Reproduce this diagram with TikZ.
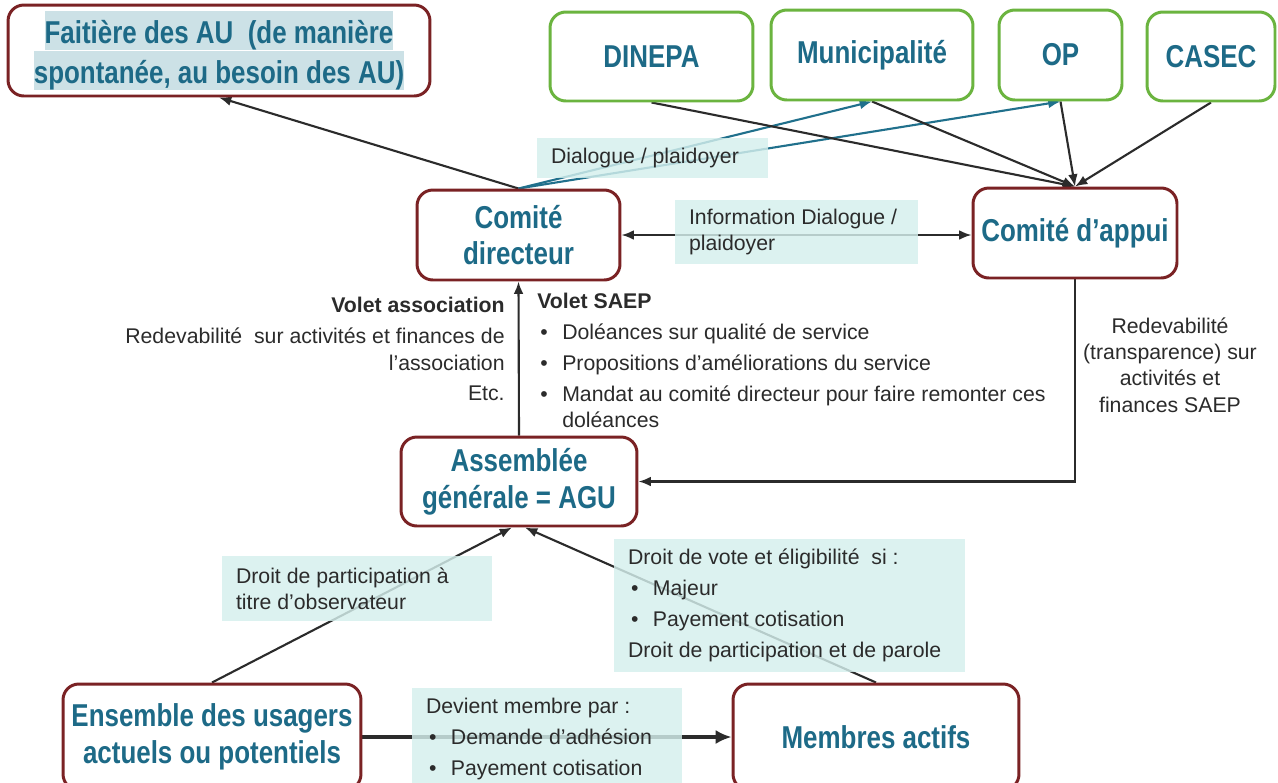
\documentclass[tikz,border=0pt]{standalone}
\usepackage{fontspec}
\setmainfont{Liberation Sans}
\newfontfamily\narrowsans[FakeStretch=0.82]{Liberation Sans}
\usetikzlibrary{arrows.meta,backgrounds}
\definecolor{titleblue}{HTML}{1D6A87}
\definecolor{boxred}{HTML}{7A2224}
\definecolor{boxgreen}{HTML}{6BB43F}
\definecolor{labelfill}{HTML}{D5F0ED}
\definecolor{hlfill}{HTML}{CCE1E6}
\definecolor{txtgray}{HTML}{2B2B2B}
\definecolor{linkblue}{HTML}{20708C}
\setlength{\fboxsep}{0pt}
\newcommand{\puce}{\hspace*{1.7pt}\makebox[12.5pt][l]{\textbullet}}
\newcommand{\surligne}[1]{\colorbox{hlfill}{\rule[-2.5pt]{0pt}{20.5pt}#1}}

\begin{document}
\begin{tikzpicture}[x=0.02cm, y=-0.02cm,
    actor/.style={rectangle, draw=boxred, line width=1.7pt, rounded corners=9pt, fill=white, align=center, text=titleblue, font=\narrowsans\bfseries\fontsize{18}{21}\selectfont},
    partner/.style={actor, draw=boxgreen},
    label/.style={rectangle, fill=labelfill, fill opacity=0.82, text opacity=1, text=txtgray, align=flush left, inner xsep=0.28cm, font=\fontsize{12.1}{15}\selectfont},
    note/.style={text=txtgray, inner sep=0pt, font=\fontsize{12.1}{15}\selectfont},
    arrow/.style={-{Latex[length=7pt,width=5.5pt]}, line width=1.2pt, txtgray},
    link/.style={arrow, linkblue}
]
\useasboundingbox (0,0) rectangle (1278,782);

% acteurs
\node[actor, minimum width=8.44cm, minimum height=1.82cm] (fait) at (219,50.5) {\surligne{Faitière des AU\ \ (de manière}\\\surligne{spontanée, au besoin des AU)}};
\node[partner, minimum width=4.06cm, minimum height=1.78cm] (din) at (651.5,56.5) {DINEPA};
\node[partner, minimum width=4.04cm, minimum height=1.8cm] (mun) at (872,55) {Municipalité};
\node[partner, minimum width=2.46cm, minimum height=1.8cm] (op) at (1060.5,55) {OP};
\node[partner, minimum width=2.56cm, minimum height=1.78cm] (casec) at (1211,56.5) {CASEC};
\node[actor, minimum width=4.06cm, minimum height=1.8cm] (cd) at (518.5,235) {Comité\\directeur};
\node[actor, minimum width=4.08cm, minimum height=1.8cm] (ca) at (1075,233) {Comité d’appui};
\node[actor, minimum width=4.72cm, minimum height=1.78cm] (ag) at (519,481.5) {Assemblée\\générale = AGU};
\node[actor, minimum width=5.96cm, minimum height=2.12cm] (ens) at (212,737) {Ensemble des usagers\\actuels ou potentiels};
\node[actor, minimum width=5.72cm, minimum height=2.12cm] (mem) at (876,737) {Membres actifs};

% etiquettes
\node[label, text width=4.06cm, minimum height=0.8cm] (dialog) at (652.5,158) {Dialogue / plaidoyer};
\node[label, text width=4.30cm, minimum height=1.28cm] (info) at (796.5,232) {Information Dialogue /\\plaidoyer};
\node[label, text width=4.84cm, minimum height=1.3cm] (observ) at (357,588.5) {Droit de participation à\\titre d’observateur};
\node[label, text width=6.46cm, minimum height=2.66cm] (vote) at (789.5,605.5) {Droit de vote et éligibilité\ \ si :\\[2.6pt]\puce Majeur\\[2.6pt]\puce Payement cotisation\\[2.6pt]Droit de participation et de parole};
\node[label, text width=4.84cm, minimum height=2.04cm] (adhes) at (547,739) {Devient membre par :\\[2.6pt]\puce Demande d’adhésion\\[2.6pt]\puce Payement cotisation};

% textes libres
\node[note, anchor=north east, align=right] (volasso) at (505,297) {\textbf{Volet association}\\[2.6pt]Redevabilité\ \ sur activités et finances de\\l’association\\[2.6pt]Etc.};
\node[note, anchor=north west, align=left] (volsaep) at (537,293) {\textbf{Volet SAEP}\\[2.6pt]\puce Doléances sur qualité de service\\[2.6pt]\puce Propositions d’améliorations du service\\[2.6pt]\puce Mandat au comité directeur pour faire remonter ces\\\hspace*{14.2pt}doléances};
\node[note, anchor=north, align=center] (redev) at (1170,317) {Redevabilité\\(transparence) sur\\activités et\\finances SAEP};

% liens
\begin{scope}[on background layer]
\fill[white] (0,0) rectangle (1278,782);
\draw[arrow] (cd.north) -- (fait.south);
\draw[link] (cd.north) -- (mun.south);
\draw[link] (cd.north) -- (op.south);
\draw[arrow] (din.south) -- (ca.north);
\draw[arrow] (mun.south) -- (ca.north);
\draw[arrow] (op.south) -- (ca.north);
\draw[arrow] (casec.south) -- (ca.north);
\draw[arrow, {Latex[length=7pt,width=5.5pt]}-{Latex[length=7pt,width=5.5pt]}] (cd.east) -- (cd.east -| ca.west);
\draw[arrow] (ag.north) -- (cd.south);
\draw[arrow] (ca.south) |- (ag.east);
\draw[arrow] (ens.north) -- ([xshift=-0.14cm]ag.south);
\draw[arrow] (mem.north) -- ([xshift=0.12cm]ag.south);
\draw[line width=2.6pt, txtgray, -{Latex[length=9pt,width=8pt]}] (ens.east) -- (mem.west);
\end{scope}
\end{tikzpicture}
\end{document}
